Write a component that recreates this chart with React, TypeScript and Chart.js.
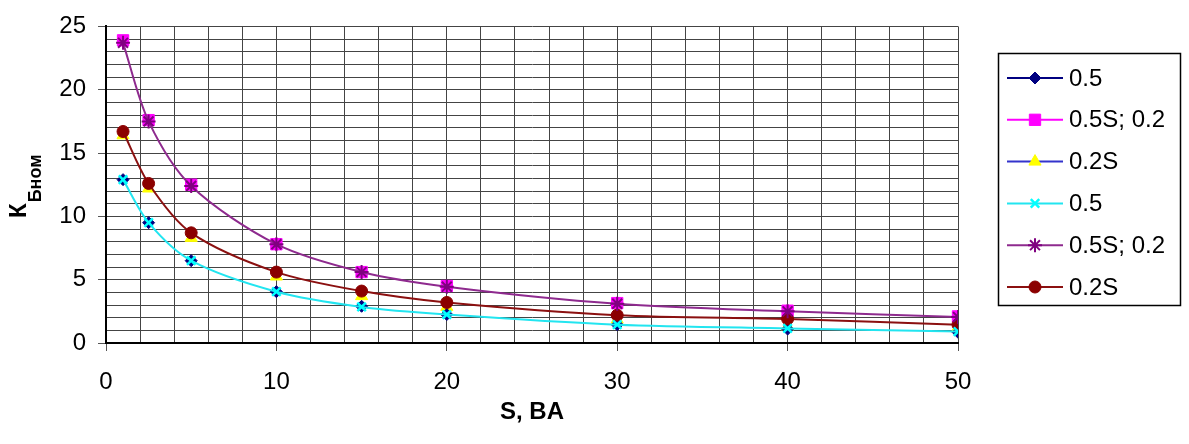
import React, { useEffect, useRef } from 'react';
import { Chart, registerables } from 'chart.js';
import { drawPoint } from 'chart.js/helpers';

Chart.register(...registerables);

// Burden S, VA
const S = [1, 2.5, 5, 10, 15, 20, 30, 40, 50];

// K (rated) values per series
const k05a = [12.9, 9.5, 6.5, 4.05, 2.9, 2.25, 1.45, 1.1, 0.85];
const k05Sa = [23.9, 17.6, 12.5, 7.8, 5.6, 4.5, 3.15, 2.55, 2.1];
const k02Sa = [16.4, 12.2, 8.3, 5.25, 3.7, 2.85, 1.85, 1.3, 1.25];
const k05b = [12.9, 9.5, 6.5, 4.05, 2.85, 2.25, 1.45, 1.15, 0.9];
const k05Sb = [23.7, 17.5, 12.4, 7.8, 5.6, 4.45, 3.1, 2.5, 2.05];
const k02Sb = [16.7, 12.6, 8.7, 5.6, 4.1, 3.2, 2.2, 1.9, 1.45];

const seriesNames = ['0.5', '0.5S; 0.2', '0.2S', '0.5', '0.5S; 0.2', '0.2S'];
const seriesValues = [k05a, k05Sa, k02Sa, k05b, k05Sb, k02Sb];

const xTickLabels = [0, 10, 20, 30, 40, 50];
const yTickLabels = [0, 5, 10, 15, 20, 25];

const xTitle = 'S, BA';
const yTitleMain = 'К';
const yTitleSub = 'Бном';

const FONT = 'Liberation Sans, Arial, sans-serif';

const styles = [
  { line: '#000080', fill: '#000080', stroke: '#000080', pointStyle: 'rectRot', radius: 6, bw: 1, order: 1, show: false },
  { line: '#FF00FF', fill: '#FF00FF', stroke: '#FF00FF', pointStyle: 'rect', radius: 8, bw: 1, order: 1, show: false },
  { line: '#3333CC', fill: '#FFFF00', stroke: '#FFFF00', pointStyle: 'triangle', radius: 7, bw: 1, order: 1, show: false },
  { line: '#22E5F0', fill: '#00FFFF', stroke: '#00FFFF', pointStyle: 'crossRot', radius: 6, bw: 2.5, order: 0, show: true },
  { line: '#8E2A8E', fill: '#800080', stroke: '#800080', pointStyle: 'star', radius: 7, bw: 2, order: 0, show: true },
  { line: '#8B1010', fill: '#8B0000', stroke: '#8B0000', pointStyle: 'circle', radius: 6, bw: 1, order: 0, show: true },
];

const decorPlugin = {
  id: 'decor',
  afterDraw(chart: any) {
    const ctx = chart.ctx as CanvasRenderingContext2D;
    const area = chart.chartArea;
    ctx.save();
    ctx.fillStyle = '#000';
    // X title
    ctx.font = `bold 24px ${FONT}`;
    ctx.textAlign = 'center';
    ctx.textBaseline = 'middle';
    ctx.fillText(xTitle, (area.left + area.right) / 2, 412);
    // Y title (rotated, with subscript)
    ctx.save();
    ctx.translate(26, 218);
    ctx.rotate(-Math.PI / 2);
    ctx.textAlign = 'left';
    ctx.textBaseline = 'alphabetic';
    ctx.font = `bold 24px ${FONT}`;
    ctx.fillText(yTitleMain, 0, 0);
    const w = ctx.measureText(yTitleMain).width;
    ctx.font = `bold 18px ${FONT}`;
    ctx.fillText(yTitleSub, w + 1, 15);
    ctx.restore();

    // Legend
    const bx = 998, by = 53, bw = 182, bh = 252;
    ctx.fillStyle = '#fff';
    ctx.fillRect(bx, by, bw, bh);
    ctx.strokeStyle = '#000';
    ctx.lineWidth = 1.5;
    ctx.strokeRect(bx + 0.5, by + 0.5, bw, bh);
    ctx.font = `24px ${FONT}`;
    ctx.textAlign = 'left';
    ctx.textBaseline = 'middle';
    for (let i = 0; i < seriesNames.length; i++) {
      const st = styles[i];
      const y = 78 + i * 41.8;
      ctx.strokeStyle = st.line;
      ctx.lineWidth = 2;
      ctx.beginPath();
      ctx.moveTo(1007, y);
      ctx.lineTo(1063, y);
      ctx.stroke();
      ctx.fillStyle = st.fill;
      ctx.strokeStyle = st.stroke;
      ctx.lineWidth = st.bw;
      drawPoint(ctx, { pointStyle: st.pointStyle, radius: st.radius, rotation: 0, borderWidth: st.bw } as any, 1035, y);
      ctx.fillStyle = '#000';
      ctx.fillText(seriesNames[i], 1069, y + 1);
    }
    ctx.restore();
  },
};

export default function App() {
  const ref = useRef<HTMLCanvasElement | null>(null);

  useEffect(() => {
    document.body.style.margin = '0';
    const canvas = ref.current;
    if (!canvas) return;
    const datasets = seriesValues.map((vals, i) => ({
      label: seriesNames[i],
      data: S.map((x, j) => ({ x, y: vals[j] })),
      borderColor: styles[i].line,
      borderWidth: 2,
      backgroundColor: styles[i].fill,
      pointBackgroundColor: styles[i].fill,
      pointBorderColor: styles[i].stroke,
      pointBorderWidth: styles[i].bw,
      pointStyle: styles[i].pointStyle as any,
      pointRadius: styles[i].radius,
      showLine: styles[i].show,
      tension: 0.3,
      fill: false,
      order: styles[i].order,
    }));

    const chart = new Chart(canvas, {
      type: 'line',
      data: { datasets },
      options: {
        animation: false,
        responsive: false,
        events: [],
        layout: { padding: { left: 0, right: 231, top: 18, bottom: 0 } },
        plugins: { legend: { display: false }, tooltip: { enabled: false }, title: { display: false } },
        scales: {
          x: {
            type: 'linear',
            min: 0,
            max: 50,
            afterFit: (scale: any) => { scale.height = 101; },
            ticks: {
              stepSize: 2,
              autoSkip: false,
              maxRotation: 0,
              padding: 17,
              color: '#000',
              font: { family: FONT, size: 24 },
              callback: (v: any) => (xTickLabels.includes(Number(v)) ? String(v) : ''),
            },
            grid: {
              color: '#444',
              lineWidth: 1,
              tickLength: 8,
              tickColor: (ctx: any) => (ctx.tick && xTickLabels.includes(ctx.tick.value) ? '#555' : 'rgba(0,0,0,0)'),
            },
            border: { color: '#000', width: 2 },
          },
          y: {
            type: 'linear',
            min: 0,
            max: 25,
            afterFit: (scale: any) => { scale.width = 106; },
            ticks: {
              stepSize: 1,
              autoSkip: false,
              padding: 12,
              color: '#000',
              font: { family: FONT, size: 24 },
              callback: (v: any) => (yTickLabels.includes(Number(v)) ? String(v) : ''),
            },
            grid: {
              color: '#444',
              lineWidth: 1,
              tickLength: 8,
              tickColor: (ctx: any) => (ctx.tick && yTickLabels.includes(ctx.tick.value) ? '#555' : 'rgba(0,0,0,0)'),
            },
            border: { color: '#000', width: 2 },
          },
        },
      },
      plugins: [decorPlugin],
    });
    return () => chart.destroy();
  }, []);

  return (
    <div style={{ width: 1189, height: 444, position: 'relative', background: '#fff' }}>
      <canvas ref={ref} width={1189} height={444} />
    </div>
  );
}
